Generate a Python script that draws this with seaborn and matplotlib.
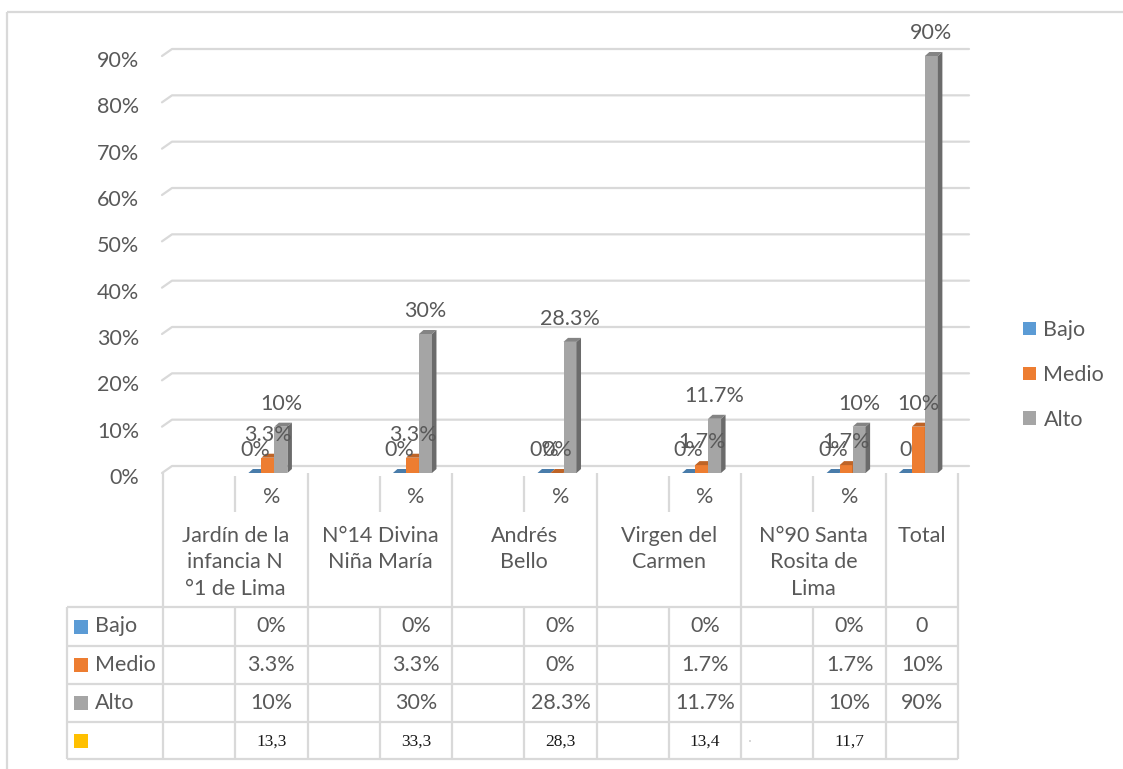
import numpy as np
import pandas as pd
import seaborn as sns
from matplotlib import pyplot as plt
from matplotlib.patches import Polygon, Rectangle
from matplotlib.transforms import ScaledTranslation, blended_transform_factory
from matplotlib.colors import to_rgb

# ---- data ----
schools = ["Jardín de la\ninfancia N\n°1 de Lima", "N°14 Divina\nNiña María",
           "Andrés\nBello", "Virgen del\nCarmen", "N°90 Santa\nRosita de\nLima", "Total"]
series = ["Bajo", "Medio", "Alto"]
bajo = [0.0, 0.0, 0.0, 0.0, 0.0, 0.0]
medio = [0.033, 0.033, 0.0, 0.017, 0.017, 0.10]
alto = [0.10, 0.30, 0.283, 0.117, 0.10, 0.90]
bajo_txt = ["0%", "0%", "0%", "0%", "0%", "0"]
medio_txt = ["3.3%", "3.3%", "0%", "1.7%", "1.7%", "10%"]
alto_txt = ["10%", "30%", "28.3%", "11.7%", "10%", "90%"]
extra_txt = ["13,3", "33,3", "28,3", "13,4", "11,7", ""]
yticks = [0.0, 0.1, 0.2, 0.3, 0.4, 0.5, 0.6, 0.7, 0.8, 0.9]
ytick_labels = ["0%", "10%", "20%", "30%", "40%", "50%", "60%", "70%", "80%", "90%"]
colors = ["#5B9BD5", "#ED7D31", "#A5A5A5"]

sns.set_theme(style="white")
plt.rcParams["font.family"] = ["Lato", "DejaVu Sans"]
TXT = "#595959"
GRID = "#D9D9D9"
FS = 15.5

W, H = 1123, 769
fig = plt.figure(figsize=(W / 100, H / 100), dpi=100)


def px(dx, dy):
    return ScaledTranslation(dx / 100, dy / 100, fig.dpi_scale_trans)


# every school has a blank slot and a "%" slot; Total has one slot
slots = []
for i in range(len(schools) - 1):
    slots += [f"s{i}", f"s{i}%"]
slots.append("total")
bar_slots = [f"s{i}%" for i in range(len(schools) - 1)] + ["total"]

df = pd.DataFrame({
    "slot": bar_slots * 3,
    "serie": np.repeat(series, len(bar_slots)),
    "value": bajo + medio + alto,
})

X0, X1 = 163, 958      # table / category span in pixels
Y0, Y1 = 473, 56       # 0% and 90% rows (front plane)
SLOT = (X1 - X0) / len(slots)

tb = fig.add_axes([0, 0, 1, 1], zorder=1)
tb.set_xlim(0, W)
tb.set_ylim(H, 0)
tb.axis("off")

ax = fig.add_axes([X0 / W, 1 - Y0 / H, (X1 - X0) / W, (Y0 - Y1) / H], zorder=2)
ax.set_facecolor("none")

sns.barplot(data=df, x="slot", y="value", hue="serie", order=slots,
            hue_order=series, palette=colors, saturation=1, width=0.54,
            linewidth=0, ax=ax)

ax.set_xlim(-0.5, len(slots) - 0.5)
ax.set_ylim(0, 0.9)
ax.set_xlabel("")
ax.set_ylabel("")
ax.set_xticks([])
ax.set_yticks([])
sns.despine(ax=ax, left=True, bottom=True)

o = ax.transData.transform((0, 0))
ux = ax.transData.transform((1, 0))[0] - o[0]
uy = ax.transData.transform((0, 1))[1] - o[1]

# 3d-ish gridlines + y labels
yax = blended_transform_factory(ax.transAxes, ax.transData)
span = X1 - X0
back = 7 / uy
for v, lab in zip(yticks, ytick_labels):
    ax.plot([-1 / span, 9 / span, 806 / span], [v, v + back, v + back],
            transform=yax, color=GRID, lw=1.6, clip_on=False, zorder=0)
    ax.text(-24 / span, v, lab, transform=yax + px(0, -5), ha="right",
            va="center", fontsize=FS, color=TXT)

# bars: front face shifted a bit, plus top and side faces
shift = ax.transData + px(-3.5, 0)
dx, dy = 4.5 / ux, 4 / uy
labels = [bajo_txt, medio_txt, alto_txt]
for j, cont in enumerate(ax.containers):
    z = 2 + j * 0.1
    for bar in cont:
        x0, w, h = bar.get_x(), bar.get_width(), bar.get_height()
        base = np.array(to_rgb(bar.get_facecolor()))
        bar.set_transform(shift)
        bar.set_clip_on(False)
        bar.set_zorder(z)
        top = Polygon([(x0, h), (x0 + w, h), (x0 + w + dx, h + dy), (x0 + dx, h + dy)],
                      facecolor=base * 0.8, lw=0, transform=shift, clip_on=False, zorder=z + 0.01)
        side = Polygon([(x0 + w, 0), (x0 + w + dx, dy), (x0 + w + dx, h + dy), (x0 + w, h)],
                       facecolor=base * 0.65, lw=0, transform=shift, clip_on=False, zorder=z + 0.01)
        ax.add_patch(top)
        ax.add_patch(side)
        k = slots[int(round(x0 + w / 2))]
        i = bar_slots.index(k)
        ax.annotate(labels[j][i], (x0 + w / 2, h), xytext=(-2.5, 16.5),
                    textcoords="offset points", ha="center", va="center",
                    fontsize=FS, color=TXT, zorder=5, annotation_clip=False)

sns.move_legend(ax, "center left", bbox_to_anchor=(1023 / W, 1 - 375 / H),
                bbox_transform=fig.transFigure, frameon=False, title=None,
                fontsize=FS, labelcolor=TXT, handlelength=0.6, handleheight=0.6,
                handletextpad=0.35, labelspacing=1.15, borderpad=0, borderaxespad=0)

# ---- data table under the chart ----
def edge(k):
    return X0 + k * SLOT


def center(k):
    return X0 + (k + 0.5) * SLOT


ln = dict(color=GRID, lw=1.6, solid_capstyle="butt")
row_edges = [607, 646, 684, 722, 759]
for k in range(len(slots) + 1):
    x = edge(k)
    if k % 2 == 1 and k < len(slots):
        tb.plot([x, x], [476, 512], **ln)
        tb.plot([x, x], [row_edges[0], row_edges[-1]], **ln)
    else:
        tb.plot([x, x], [473, row_edges[-1]], **ln)
tb.plot([67, 67], [row_edges[0], row_edges[-1]], **ln)
for y in row_edges:
    tb.plot([67, edge(len(slots))], [y, y], **ln)

# outer chart border
tb.plot([7, 7], [12, H], **ln)
tb.plot([7, W], [12, 12], **ln)

for i, name in enumerate(schools):
    if i < len(schools) - 1:
        tb.text(center(2 * i + 1), 497, "%", ha="center", va="center", fontsize=FS, color=TXT)
        cx = edge(2 * i + 1)
    else:
        cx = center(len(slots) - 1)
    tb.text(cx, 526, name, ha="center", va="top", multialignment="center",
            linespacing=1.4, fontsize=FS, color=TXT)

row_names = series + [""]
row_colors = colors + ["#FFC000"]
for r in range(4):
    yc = (row_edges[r] + row_edges[r + 1]) / 2
    tb.add_patch(Rectangle((74, yc - 7), 14, 14, color=row_colors[r], lw=0))
    tb.text(95, yc, row_names[r], ha="left", va="center", fontsize=FS, color=TXT)
    for i, s in enumerate(bar_slots):
        cx = center(slots.index(s))
        if r < 3:
            tb.text(cx, yc, labels[r][i], ha="center", va="center", fontsize=FS, color=TXT)
        else:
            tb.text(cx, yc + 1, extra_txt[i], ha="center", va="center",
                    fontsize=12.5, color="#1a1a1a", family="Liberation Serif")
tb.text(750, 741, "ııı", ha="center", va="center", fontsize=3, color="#999999")

fig.savefig("out.png", dpi=100)
